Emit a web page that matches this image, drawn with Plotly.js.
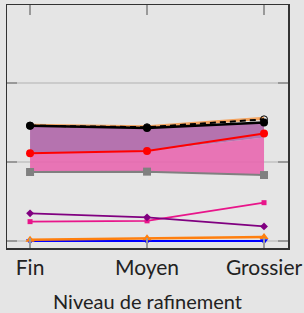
<!DOCTYPE html>
<html>
<head>
<meta charset="utf-8">
<script src="https://cdn.plot.ly/plotly-3.0.1.min.js"></script>
<style>html,body{margin:0;padding:0;background:#e5e5e5;}#chart{width:304px;height:313px;}</style>
</head>
<body>
<div id="chart"></div>
<script>
var categories = ["Fin", "Moyen", "Grossier"];
var xTitle = "Niveau de rafinement";
var xPos = [0, 1, 2];
var grayVals = [0.873, 0.878, 0.835];
var pinkTopVals = [1.11, 1.14, 1.31];
var redVals = [1.11, 1.14, 1.36];
var blackVals = [1.46, 1.43, 1.50];
var dashedVals = [1.46, 1.44, 1.54];
var sandyVals = [1.465, 1.445, 1.555];
var purpleVals = [0.35, 0.30, 0.185];
var pinkVals = [0.245, 0.255, 0.485];
var orangeVals = [0.016, 0.035, 0.052];
var blueVals = [0.0, 0.0, 0.0];

function fillTrace(y, fill, color) {
  return {x: xPos, y: y, type: 'scatter', mode: 'lines', line: {width: 0, color: 'rgba(0,0,0,0)'},
          fill: fill, fillcolor: color, hoverinfo: 'skip', showlegend: false};
}
function lineTrace(y, color, width, symbol, size, dash, mcolor) {
  return {x: xPos, y: y, type: 'scatter', mode: symbol ? 'lines+markers' : 'lines',
          line: {color: color, width: width, dash: dash || 'solid'},
          marker: {symbol: symbol || 'circle', size: size || 6, color: mcolor || color},
          showlegend: false, hoverinfo: 'skip'};
}

var traces = [
  fillTrace(grayVals, 'none', 'rgba(0,0,0,0)'),
  fillTrace(pinkTopVals, 'tonexty', 'rgba(232,103,175,0.9)'),
  fillTrace(blackVals, 'tonexty', 'rgba(175,102,168,0.9)'),
  lineTrace(blueVals, '#0000ff', 2, 'triangle-down', 7),
  lineTrace(orangeVals, '#ff7f0e', 2.5, 'triangle-up', 8),
  lineTrace(pinkVals, '#e8158a', 1.8, 'square', 5),
  lineTrace(purpleVals, '#800080', 1.8, 'diamond', 6),
  lineTrace(grayVals, '#808080', 2, 'square', 8),
  lineTrace(redVals, '#ff0000', 2, 'circle', 8),
  lineTrace(sandyVals, '#f4a460', 3, null),
  lineTrace(blackVals, '#000000', 2.5, 'circle', 8),
  lineTrace(dashedVals, '#000000', 2, 'circle-open', 7, '6px,4px')
];

var layout = {
  width: 304, height: 313,
  paper_bgcolor: '#e5e5e5', plot_bgcolor: '#e5e5e5',
  margin: {l: 7, r: 16, t: 5, b: 65},
  font: {family: 'Lato, "DejaVu Sans", sans-serif', color: '#222'},
  showlegend: false,
  xaxis: {
    range: [-0.197, 2.205], tickvals: xPos, ticktext: categories,
    ticks: 'inside', ticklen: 10, tickcolor: '#999', tickwidth: 1.5,
    showgrid: false, zeroline: false,
    showline: true, mirror: 'ticks', linecolor: '#333', linewidth: 1.5,
    tickfont: {size: 21, color: '#222'}
  },
  yaxis: {
    range: [-0.0886, 2.987], tickvals: [0, 1, 2], showticklabels: false,
    ticks: 'inside', ticklen: 10, tickcolor: '#999', tickwidth: 1.5,
    showgrid: true, gridcolor: '#cbcbcb', gridwidth: 1.5, zeroline: false,
    showline: true, mirror: 'ticks', linecolor: '#333', linewidth: 1.5
  },
  annotations: [{
    text: xTitle, xref: 'paper', yref: 'paper', x: 0.5, y: -0.219,
    xanchor: 'center', yanchor: 'middle', showarrow: false, borderpad: 0,
    font: {size: 20, color: '#222'}
  }]
};

Plotly.newPlot('chart', traces, layout, {displayModeBar: false, staticPlot: true});
</script>
</body>
</html>
